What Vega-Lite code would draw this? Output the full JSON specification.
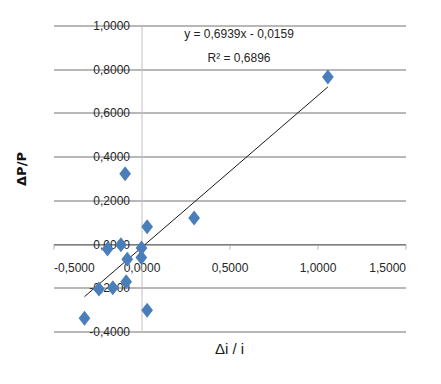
{
  "$schema": "https://vega.github.io/schema/vega-lite/v6.json",
  "width": 352,
  "height": 306,
  "autosize": "none",
  "padding": {"left": 53.5, "top": 25.5, "right": 35.5, "bottom": 52.5},
  "background": "white",
  "config": {"view": {"stroke": null}},
  "datasets": {
    "points": [
      {"x": 1.059, "y": 0.764},
      {"x": -0.093, "y": 0.322},
      {"x": 0.299, "y": 0.119},
      {"x": 0.032, "y": 0.079},
      {"x": -0.117, "y": -0.003},
      {"x": -0.193, "y": -0.023},
      {"x": 0.0, "y": -0.018},
      {"x": -0.081, "y": -0.069},
      {"x": -0.001, "y": -0.061},
      {"x": -0.087, "y": -0.172},
      {"x": -0.242, "y": -0.206},
      {"x": -0.163, "y": -0.2},
      {"x": 0.032, "y": -0.303},
      {"x": -0.324, "y": -0.339}
    ],
    "trend": [
      {"x": -0.324, "y": -0.2407},
      {"x": 1.059, "y": 0.7189}
    ],
    "notes": [
      {"x": 0.554, "y": 0.963, "label": "y = 0,6939x - 0,0159"},
      {"x": 0.554, "y": 0.853, "label": "R² = 0,6896"}
    ]
  },
  "layer": [
    {
      "data": {"name": "trend"},
      "mark": {"type": "line", "color": "#1a1a1a", "strokeWidth": 1},
      "encoding": {
        "x": {"field": "x", "type": "quantitative",
          "scale": {"domain": [-0.5, 1.5], "nice": false, "zero": false},
          "axis": {"orient": "bottom", "offset": -87.43, "title": null, "grid": false,
            "values": [-0.5, 0, 0.5, 1, 1.5],
            "domain": true, "domainColor": "#7f7f7f", "domainWidth": 1.2,
            "ticks": true, "tickColor": "#b0b0b0", "tickSize": 5,
            "labelPadding": 13, "labelFont": "Liberation Sans, sans-serif",
            "labelFontSize": 12, "labelColor": "#262626",
            "labelExpr": "replace(replace(format(datum.value, '.4f'), '.', ','), '\u2212', '-')"}},
        "y": {"field": "y", "type": "quantitative",
          "scale": {"domain": [-0.4, 1.0], "nice": false, "zero": false},
          "axis": {"orient": "left", "offset": -88, "title": null, "grid": false,
            "values": [-0.4, -0.2, 0, 0.2, 0.4, 0.6, 0.8, 1.0],
            "domain": true, "domainColor": "#c0c0c0", "domainWidth": 1,
            "ticks": false, "labelPadding": 12,
            "labelFont": "Liberation Sans, sans-serif",
            "labelFontSize": 12, "labelColor": "#262626",
            "labelExpr": "replace(replace(format(datum.value, '.4f'), '.', ','), '\u2212', '-')"}}
      }
    },
    {
      "data": {"name": "points"},
      "mark": {"type": "point", "shape": "M0,-1L0.78,0L0,1L-0.78,0Z", "filled": true, "size": 225, "color": "#4a7ebb", "opacity": 1},
      "encoding": {
        "x": {"field": "x", "type": "quantitative",
          "axis": {"orient": "bottom", "title": "Δi / i", "grid": false, "domain": false, "ticks": false, "labels": false,
            "titleFont": "Liberation Sans, sans-serif",
            "titleFontSize": 15, "titleFontWeight": "normal", "titleColor": "#1a1a1a",
            "titleX": 175.5, "titleY": 16.5, "titleBaseline": "middle"}},
        "y": {"field": "y", "type": "quantitative",
          "axis": {"orient": "left", "title": "ΔP/P", "grid": true,
            "values": [-0.4, -0.2, 0, 0.2, 0.4, 0.6, 0.8, 1.0],
            "gridColor": "#a0a0a0", "gridWidth": 1.5,
            "domain": false, "ticks": false, "labels": false,
            "titleFont": "DejaVu Sans, sans-serif", "titleFontSize": 13, "titleFontWeight": "bold", "titleColor": "#111111",
            "titleX": -32, "titleY": 143, "titleBaseline": "middle", "titleAngle": -90}}
      }
    },
    {
      "data": {"name": "notes"},
      "mark": {"type": "text", "font": "Liberation Sans, sans-serif", "fontSize": 12, "color": "#262626", "align": "center", "baseline": "middle"},
      "encoding": {
        "x": {"field": "x", "type": "quantitative", "axis": null},
        "y": {"field": "y", "type": "quantitative", "axis": null},
        "text": {"field": "label"}
      }
    }
  ],
  "resolve": {"axis": {"x": "independent", "y": "independent"}}
}
